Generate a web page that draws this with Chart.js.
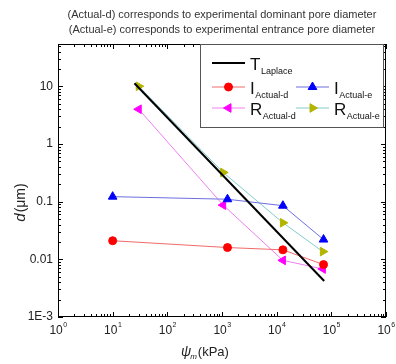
<!DOCTYPE html>
<html lang="en">
<head>
  <meta charset="UTF-8">
  <title>Pore diameter vs suction</title>
  <script src="https://cdn.jsdelivr.net/npm/chart.js"></script>
  <style>
    body { margin: 0; padding: 0; background: #fff; }
    canvas { display: block; }
  </style>
</head>
<body>
  <canvas id="grafico" width="396" height="364"></canvas>

  <script>
    // data (x = suction in kPa, y = pore diameter in um)
    const laplaceX = [25, 74000];
    const laplaceY = [11.3, 0.0042];

    const iDomX = [10, 1260, 13000, 72000];
    const iDomY = [0.021, 0.016, 0.0146, 0.0081];

    const iEntX = [10, 1260, 13000, 72000];
    const iEntY = [0.122, 0.11, 0.085, 0.022];

    const rDomX = [30, 1050, 13000, 70000];
    const rDomY = [4.0, 0.087, 0.0096, 0.0068];

    const rEntX = [30, 1050, 13000, 70000];
    const rEntY = [10, 0.32, 0.043, 0.0136];

    const xExponents = ['0', '1', '2', '3', '4', '5', '6'];
    const yTickValues = [0.001, 0.01, 0.1, 1, 10];
    const yTickLabels = ['1E-3', '0.01', '0.1', '1', '10'];

    const titleLines = [
      '(Actual-d) corresponds to experimental dominant pore diameter',
      '(Actual-e) corresponds to experimental entrance pore diameter'
    ];

    const FONT = '"Liberation Sans", Arial, sans-serif';

    function pts(xs, ys) {
      return xs.map((x, i) => ({ x: x, y: ys[i] }));
    }

    const legendItems = [
      { main: 'T', sub: 'Laplace', line: '#000000', mark: null, col: 0, row: 0 },
      { main: 'I', sub: 'Actual-d', line: '#f06a6a', mark: '#ff0000', style: 'circle', rot: 0, col: 0, row: 1 },
      { main: 'I', sub: 'Actual-e', line: '#6d6de0', mark: '#0000ff', style: 'triangle', rot: 0, col: 1, row: 1 },
      { main: 'R', sub: 'Actual-d', line: '#f07ef0', mark: '#ff00ff', style: 'triangle', rot: -90, col: 0, row: 2 },
      { main: 'R', sub: 'Actual-e', line: '#84cccc', mark: '#b4b400', style: 'triangle', rot: 90, col: 1, row: 2 }
    ];

    const decor = {
      id: 'decor',
      afterDraw(chart) {
        const ctx = chart.ctx;
        const a = chart.chartArea;
        const sx = chart.scales.x;
        const sy = chart.scales.y;
        ctx.save();

        // frame
        ctx.strokeStyle = '#000';
        ctx.lineWidth = 1;
        ctx.strokeRect(Math.round(a.left) + 0.5, Math.round(a.top) + 0.5,
          Math.round(a.right - a.left) - 1, Math.round(a.bottom - a.top) - 1);

        // inward ticks on all four sides
        ctx.beginPath();
        for (let e = 0; e <= 6; e++) {
          for (let m = 1; m <= 9; m++) {
            const v = m * Math.pow(10, e);
            if (v > 1e6) break;
            const px = Math.round(sx.getPixelForValue(v)) + 0.5;
            const len = m === 1 ? 5 : 3;
            ctx.moveTo(px, a.bottom); ctx.lineTo(px, a.bottom - len);
            ctx.moveTo(px, a.top); ctx.lineTo(px, a.top + len);
          }
        }
        for (let e = -3; e <= 1; e++) {
          for (let m = 1; m <= 9; m++) {
            const v = m * Math.pow(10, e);
            if (v > sy.max) break;
            const py = Math.round(sy.getPixelForValue(v)) + 0.5;
            const len = m === 1 ? 5 : 3;
            ctx.moveTo(a.left, py); ctx.lineTo(a.left + len, py);
            ctx.moveTo(a.right, py); ctx.lineTo(a.right - len, py);
          }
        }
        ctx.stroke();

        // x tick labels 10^n
        ctx.fillStyle = '#222';
        ctx.textBaseline = 'alphabetic';
        xExponents.forEach((ex, i) => {
          const px = sx.getPixelForValue(Math.pow(10, i));
          ctx.font = '12px ' + FONT;
          const w1 = ctx.measureText('10').width;
          ctx.font = '7px ' + FONT;
          const w2 = ctx.measureText(ex).width;
          const x0 = px - (w1 + w2) / 2;
          ctx.font = '12px ' + FONT;
          ctx.textAlign = 'left';
          ctx.fillText('10', x0, 334);
          ctx.font = '7px ' + FONT;
          ctx.fillText(ex, x0 + w1 + 0.5, 327);
        });

        // title lines
        ctx.font = '11px ' + FONT;
        ctx.fillStyle = '#333';
        ctx.textAlign = 'center';
        ctx.fillText(titleLines[0], 222, 18);
        ctx.fillText(titleLines[1], 222, 33);

        // x axis title
        ctx.fillStyle = '#222';
        ctx.textAlign = 'left';
        ctx.font = 'italic 14px ' + FONT;
        const xt0 = 181;
        ctx.fillText('\u03c8', xt0, 356);
        const wPsi = ctx.measureText('\u03c8').width;
        ctx.font = 'italic 8px ' + FONT;
        ctx.fillText('m', xt0 + wPsi - 1, 359);
        const wm = ctx.measureText('m').width;
        ctx.font = '13px ' + FONT;
        ctx.fillText('(kPa)', xt0 + wPsi + wm, 356);

        // y axis title
        ctx.save();
        ctx.translate(25, 203);
        ctx.rotate(-Math.PI / 2);
        ctx.font = 'italic 15px ' + FONT;
        const wd = ctx.measureText('d').width;
        ctx.font = '14px ' + FONT;
        const wu = ctx.measureText('(\u03bcm)').width;
        const yt0 = -(wd + wu) / 2;
        ctx.font = 'italic 15px ' + FONT;
        ctx.fillText('d', yt0, 0);
        ctx.font = '14px ' + FONT;
        ctx.fillText('(\u03bcm)', yt0 + wd + 1, 0);
        ctx.restore();

        // legend
        const bx = 200, by = Math.round(a.top), bw = 183, bh = 83;
        ctx.fillStyle = '#fff';
        ctx.fillRect(bx, by, bw, bh);
        ctx.strokeStyle = '#555';
        ctx.lineWidth = 1;
        ctx.strokeRect(bx + 0.5, by + 0.5, bw, bh);

        const rowY = [by + 19, by + 43, by + 64];
        const colX = [212, 296];
        legendItems.forEach(it => {
          const x = colX[it.col];
          const y = rowY[it.row];
          ctx.strokeStyle = it.line;
          ctx.lineWidth = it.mark ? 1 : 2;
          ctx.beginPath();
          ctx.moveTo(x, y); ctx.lineTo(x + 33, y);
          ctx.stroke();
          if (it.mark) {
            ctx.fillStyle = it.mark;
            ctx.strokeStyle = it.mark;
            ctx.lineWidth = 1;
            Chart.helpers.drawPoint(ctx, {
              pointStyle: it.style,
              radius: it.style === 'circle' ? 4 : 5,
              rotation: it.rot,
              borderWidth: 1
            }, x + 16.5, y);
          }
          ctx.fillStyle = '#111';
          ctx.textAlign = 'left';
          ctx.font = '17px ' + FONT;
          const tx = x + 38;
          ctx.fillText(it.main, tx, y + 7);
          const wMain = ctx.measureText(it.main).width;
          ctx.font = '9px ' + FONT;
          ctx.fillText(it.sub, tx + wMain + 0.5, y + 11);
        });

        ctx.restore();
      }
    };

    const ctxGrafico = document.getElementById('grafico').getContext('2d');

    const grafico = new Chart(ctxGrafico, {
      type: 'scatter',
      data: {
        datasets: [
          {
            label: 'T Laplace',
            data: pts(laplaceX, laplaceY),
            showLine: true,
            borderColor: '#000000',
            borderWidth: 2,
            pointRadius: 0
          },
          {
            label: 'I Actual-d',
            data: pts(iDomX, iDomY),
            showLine: true,
            borderColor: '#f06a6a',
            borderWidth: 1,
            pointStyle: 'circle',
            pointRadius: 4,
            pointBackgroundColor: '#ff0000',
            pointBorderColor: '#ff0000'
          },
          {
            label: 'I Actual-e',
            data: pts(iEntX, iEntY),
            showLine: true,
            borderColor: '#6d6de0',
            borderWidth: 1,
            pointStyle: 'triangle',
            pointRadius: 5,
            pointBackgroundColor: '#0000ff',
            pointBorderColor: '#0000ff'
          },
          {
            label: 'R Actual-d',
            data: pts(rDomX, rDomY),
            showLine: true,
            borderColor: '#f07ef0',
            borderWidth: 1,
            pointStyle: 'triangle',
            pointRotation: -90,
            pointRadius: 5,
            pointBackgroundColor: '#ff00ff',
            pointBorderColor: '#ff00ff'
          },
          {
            label: 'R Actual-e',
            data: pts(rEntX, rEntY),
            showLine: true,
            borderColor: '#84cccc',
            borderWidth: 1,
            pointStyle: 'triangle',
            pointRotation: 90,
            pointRadius: 5,
            pointBackgroundColor: '#b4b400',
            pointBorderColor: '#b4b400'
          }
        ]
      },
      options: {
        responsive: false,
        animation: false,
        layout: { padding: { top: 44, right: 10, left: 0, bottom: 0 } },
        plugins: {
          legend: { display: false },
          tooltip: { enabled: false },
          title: { display: false }
        },
        scales: {
          x: {
            type: 'logarithmic',
            min: 1,
            max: 1e6,
            grid: { display: false },
            border: { display: false },
            ticks: { display: false },
            afterBuildTicks: s => { s.ticks = xExponents.map((e, i) => ({ value: Math.pow(10, i) })); },
            afterFit: s => { s.height = 47; }
          },
          y: {
            type: 'logarithmic',
            min: 0.001,
            max: 54,
            grid: { display: false, drawTicks: false },
            border: { display: false },
            ticks: {
              padding: 5,
              color: '#222',
              font: { family: FONT, size: 12 },
              callback: v => {
                const i = yTickValues.findIndex(t => Math.abs(Math.log10(t) - Math.log10(v)) < 1e-6);
                return i >= 0 ? yTickLabels[i] : '';
              }
            },
            afterBuildTicks: s => { s.ticks = yTickValues.map(v => ({ value: v })); },
            afterFit: s => { s.width = 58; }
          }
        }
      },
      plugins: [decor]
    });
  </script>
</body>
</html>
